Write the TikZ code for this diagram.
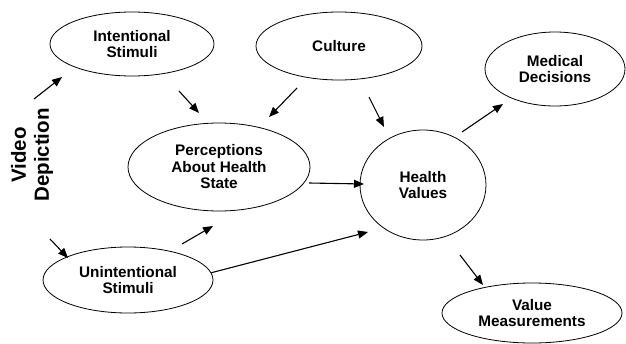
\documentclass[tikz,border=0pt]{standalone}
\usepackage{fontspec}
\setmainfont{Liberation Sans}
\usetikzlibrary{shapes.geometric,arrows.meta}
\tikzset{
  bub/.style={draw, ellipse, line width=0.8pt, inner sep=0pt, align=center,
    font=\bfseries\fontsize{15.3}{16.5}\selectfont},
  arr/.style={line width=1.1pt, -{Triangle[length=10pt,width=8pt]}},
}
\begin{document}
\begin{tikzpicture}[x=1pt,y=-1pt]
\useasboundingbox (0,0) rectangle (626,343);
% nodes
\node[bub, minimum width=164pt, minimum height=64pt] (int) at (132,44) {Intentional\\Stimuli};
\node[bub, minimum width=166pt, minimum height=68pt] (cul) at (339,46) {Culture};
\node[bub, minimum width=140pt, minimum height=74pt] (med) at (555,69) {Medical\\Decisions};
\node[bub, minimum width=182pt, minimum height=88pt] (per) at (219,167) {Perceptions\\About Health\\State};
\node[bub, minimum width=126pt, minimum height=110pt] (hv) at (423,185) {Health\\Values};
\node[bub, minimum width=170pt, minimum height=66pt] (uni) at (128,280) {Unintentional\\Stimuli};
\node[bub, minimum width=180pt, minimum height=60pt] (val) at (532,313) {Value\\Measurements};
\node[rotate=90, align=center, font=\bfseries\fontsize{20.5}{23}\selectfont] (vid) at (32,155) {Video\\Depiction};
% free arrow ends
\coordinate (v1s) at (34,99);   \coordinate (v1e) at (62,77);
\coordinate (v2s) at (50,239);  \coordinate (v2e) at (68,258);
\coordinate (i1s) at (179,91);  \coordinate (i1e) at (199,113);
\coordinate (c1s) at (297,88);  \coordinate (c1e) at (269,117);
\coordinate (c2s) at (369,97);  \coordinate (c2e) at (384,127);
\coordinate (h1s) at (462,132); \coordinate (h1e) at (503,104);
\coordinate (p1s) at (309,183); \coordinate (p1e) at (364,184);
\coordinate (u1s) at (182,244); \coordinate (u1e) at (213,226);
\coordinate (u2e) at (368,232);
\coordinate (h2s) at (460,255); \coordinate (h2e) at (483,285);
% connectors
\draw[arr] (v1s) -- (v1e);
\draw[arr] (v2s) -- (v2e);
\draw[arr] (i1s) -- (i1e);
\draw[arr] (c1s) -- (c1e);
\draw[arr] (c2s) -- (c2e);
\draw[arr] (h1s) -- (h1e);
\draw[arr] (p1s) -- (p1e);
\draw[arr] (u1s) -- (u1e);
\draw[arr] (uni.5) -- (u2e);
\draw[arr] (h2s) -- (h2e);
\end{tikzpicture}
\end{document}
